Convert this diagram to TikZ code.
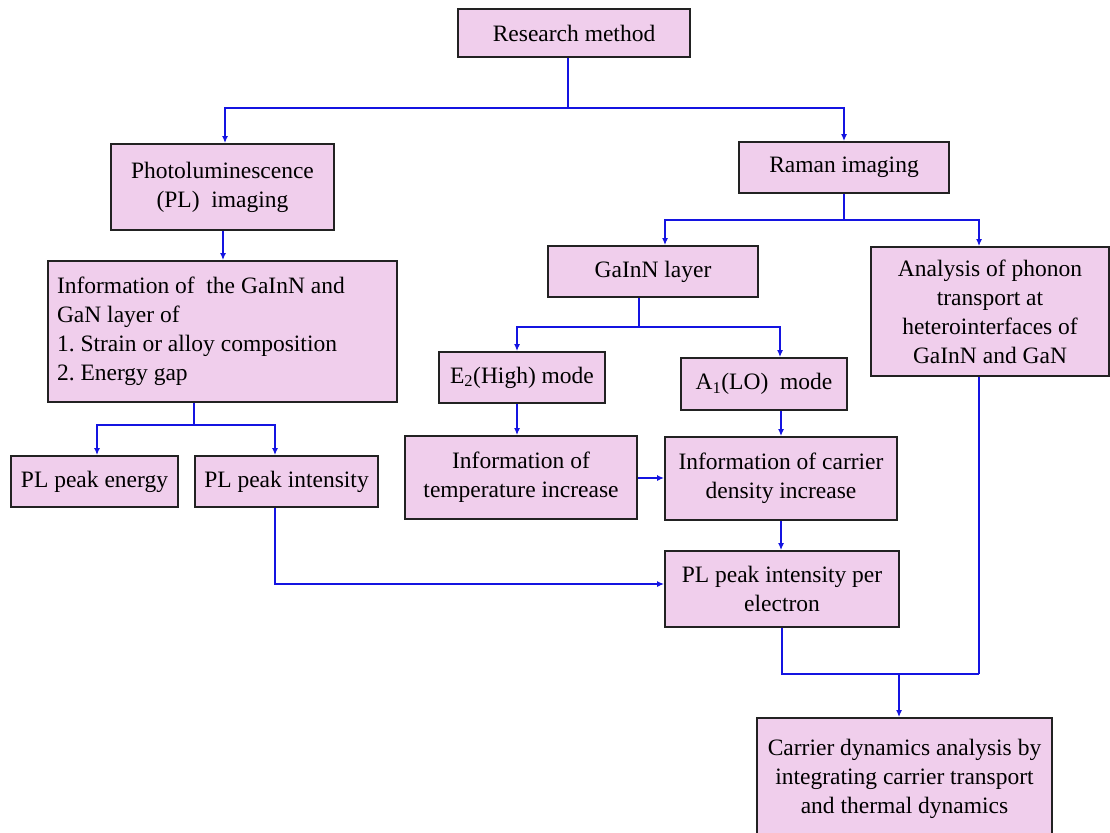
\documentclass[tikz,border=0pt]{standalone}
\usepackage{fontspec}
\setmainfont{Liberation Serif}
\usetikzlibrary{arrows.meta,calc}
\definecolor{boxfill}{RGB}{240,206,236}
\definecolor{boxline}{RGB}{34,34,34}
\definecolor{connblue}{RGB}{20,20,225}
\begin{document}
\frenchspacing
\begin{tikzpicture}[x=1pt,y=-1pt,
  box/.style={draw=boxline,fill=boxfill,line width=1.8pt,inner sep=0pt,align=center,
    font=\fontsize{23.5}{29}\selectfont},
  conn/.style={draw=connblue,line width=2.1pt,-{Latex[length=7pt,width=6pt]}},
  wire/.style={draw=connblue,line width=2.1pt}]
\useasboundingbox (0,0) rectangle (1110,832);

% nodes
\node[box,minimum width=232pt,minimum height=48pt] (rm) at (574,33) {Research method};
\node[box,minimum width=223pt,minimum height=86pt] (pl) at (222.5,187) {Photoluminescence\\(PL)~~imaging};
\node[box,minimum width=349pt,minimum height=141pt,text width=331pt,align=flush left] (info) at (222.5,331.5)
  {Information of~~the GaInN and\\GaN layer of\\1. Strain or alloy composition\\2. Energy gap};
\node[box,minimum width=167pt,minimum height=51pt] (ple) at (94.5,481.5) {PL peak energy};
\node[box,minimum width=183pt,minimum height=51pt] (pli) at (286.5,481.5) {PL peak intensity};
\node[box,minimum width=210pt,minimum height=51pt] (raman) at (844,167.5) {Raman imaging};
\node[box,minimum width=210pt,minimum height=51pt] (gainn) at (653,271.5) {GaInN layer};
\node[box,minimum width=238pt,minimum height=129pt] (anal) at (990,311.5)
  {Analysis of phonon\\transport at\\heterointerfaces of\\GaInN and GaN};
\node[box,minimum width=166pt,minimum height=51pt] (e2) at (522,377.5) {E\textsubscript{2}(High) mode};
\node[box,minimum width=166pt,minimum height=52pt] (a1) at (764,384) {A\textsubscript{1}(LO)~~mode};
\node[box,minimum width=232pt,minimum height=83pt] (temp) at (521,477.5) {Information of\\temperature increase};
\node[box,minimum width=232pt,minimum height=83pt] (carr) at (781,478.5) {Information of carrier\\density increase};
\node[box,minimum width=234pt,minimum height=76pt] (pe) at (782,589) {PL peak intensity per\\electron};
\node[box,minimum width=295pt,minimum height=122pt] (cd) at (904.5,779)
  {Carrier dynamics analysis by\\integrating carrier transport\\and thermal dynamics};

% junction coordinates
\coordinate (j1) at (568,108);
\coordinate (a0) at (225,108);
\coordinate (p0) at (223,240);
\coordinate (j2) at (194,425);
\coordinate (b1) at (97,425);
\coordinate (b2) at (275,425);
\coordinate (k1) at (275,584);
\coordinate (h1) at (640,478);
\coordinate (j3) at (844,220);
\coordinate (c1) at (665,220);
\coordinate (c2) at (979,220);
\coordinate (j4) at (639,327);
\coordinate (d1) at (517,327);
\coordinate (d2) at (780,327);
\coordinate (m1) at (782,674);
\coordinate (m2) at (979,674);
\coordinate (m3) at (899,674);

% connectors
\draw[wire] (j1 |- rm.south) -- (j1);
\draw[conn] (j1) -- (a0) -- (a0 |- pl.north);
\draw[conn] (j1) -| (raman.north);
\draw[conn] (p0 |- pl.south) -- (p0 |- info.north);
\draw[wire] (j2 |- info.south) -- (j2);
\draw[conn] (j2) -- (b1) -- (b1 |- ple.north);
\draw[conn] (j2) -- (b2) -- (b2 |- pli.north);
\draw[conn] (k1 |- pli.south) -- (k1) -- (k1 -| pe.west);
\draw[wire] (raman.south) -- (j3);
\draw[conn] (j3) -- (c1) -- (c1 |- gainn.north);
\draw[conn] (j3) -- (c2) -- (c2 |- anal.north);
\draw[wire] (j4 |- gainn.south) -- (j4);
\draw[conn] (j4) -- (d1) -- (d1 |- e2.north);
\draw[conn] (j4) -- (d2) -- (d2 |- a1.north);
\draw[conn] (d1 |- e2.south) -- (d1 |- temp.north);
\draw[conn] (carr.north |- a1.south) -- (carr.north);
\draw[conn] (h1 -| temp.east) -- (h1 -| carr.west);
\draw[conn] (carr.south) -- (carr.south |- pe.north);
\draw[wire] (m1 |- pe.south) -- (m1) -- (m2);
\draw[wire] (m2 |- anal.south) -- (m2);
\draw[conn] (m3) -- (m3 |- cd.north);
\end{tikzpicture}
\end{document}
